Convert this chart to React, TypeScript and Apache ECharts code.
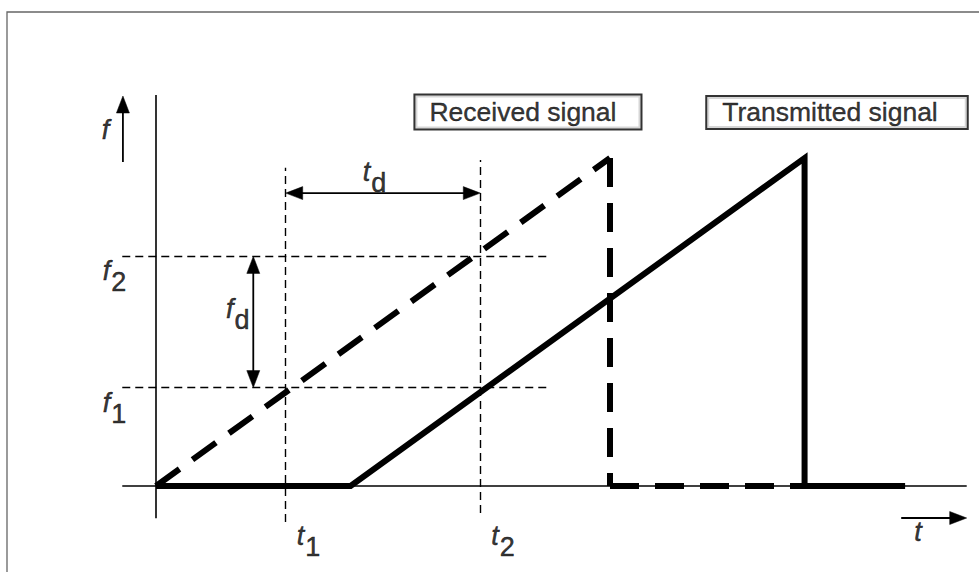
import React, { useEffect, useRef } from 'react';
import * as echarts from 'echarts';

// ---- data (t, f) in arbitrary units ----
const receivedSignal: [number, number][] = [[0, 0], [7, 10], [7, 0], [10, 0]];
const transmittedSignal: [number, number][] = [[0, 0], [3, 0], [10, 10], [10, 0], [11.55, 0]];
const freqMarks = [3, 7];
const freqSubscripts = ['1', '2'];
const timeMarks = [2, 5];
const timeSubscripts = ['1', '2'];
const signalNames = ['Received signal', 'Transmitted signal'];

const FONT = '"Liberation Sans", Arial, Helvetica, sans-serif';

export default function App() {
  const ref = useRef<HTMLDivElement>(null);

  useEffect(() => {
    if (!ref.current) return;
    const chart = echarts.init(ref.current, undefined, { renderer: 'svg' });

    const base = {
      fontSize: 27,
      fontFamily: FONT,
      color: '#000',
      lineHeight: 28,
      verticalAlign: 'top',
      textBorderColor: '#000',
      textBorderWidth: 0.5,
    };
    const richStyles = {
      i: { ...base, fontStyle: 'italic' },
      s: { ...base, padding: [11, 0, 0, 1] },
    };

    const seg = (a: number[], b: number[]) => ({ coords: [a, b] });

    const receivedSegments = receivedSignal.slice(1).map((p, i) => seg(receivedSignal[i], p));

    const tLineTop = [9.7, 9.94];
    const tLineBottom = [-1.1, -0.82];
    const refLines = [
      ...freqMarks.map((f) => seg([-0.52, f], [6.03, f])),
      ...timeMarks.map((t, i) => seg([t, tLineBottom[i]], [t, tLineTop[i]])),
    ];

    const arrows = [
      [-0.51, 9.88, -0.51, 11.89, 0, 1],
      [11.49, -0.976, 12.5, -0.976, 0, 1],
      [timeMarks[0], 8.93, timeMarks[1], 8.93, 1, 1],
      [1.5, freqMarks[0], 1.5, freqMarks[1], 1, 1],
    ];

    const labelItems: any[] = [
      { value: [-0.78, 10.85], label: { formatter: '{i|f}' } },
      ...freqMarks.map((f, i) => ({ value: [-0.64, f - 0.47], label: { formatter: `{i|f}{s|${freqSubscripts[i]}}` } })),
      ...timeMarks.map((t, i) => ({ value: [t + 0.35, -1.53], label: { formatter: `{i|t}{s|${timeSubscripts[i]}}` } })),
      { value: [(timeMarks[0] + timeMarks[1]) / 2 - 0.13, 9.55], label: { formatter: '{i|t}{s|d}' } },
      { value: [1.26, (freqMarks[0] + freqMarks[1]) / 2 + 0.38], label: { formatter: '{i|f}{s|d}' } },
      { value: [11.75, -1.43], label: { formatter: '{i|t}' } },
    ];

    const boxItems = [
      { value: [5.735, 11.4], name: signalNames[0], label: { padding: [3, 24, 3, 14] } },
      { value: [10.5, 11.39], name: signalNames[1], label: { padding: [2, 29, 2, 15] } },
    ];

    const option: any = {
      animation: false,
      backgroundColor: '#fff',
      grid: { left: 91.14, right: 5.8, top: 59.6, bottom: 20.4, containLabel: false },
      xAxis: { type: 'value', min: -1, max: 12.6, show: false },
      yAxis: { type: 'value', min: -2, max: 13, show: false },
      graphic: [
        {
          type: 'polyline',
          shape: { points: [[7, 572], [7, 12], [979, 12]] },
          style: { stroke: '#666', lineWidth: 1.3, fill: 'none' },
          silent: true,
        },
      ],
      series: [
        {
          type: 'lines',
          coordinateSystem: 'cartesian2d',
          silent: true,
          z: 1,
          lineStyle: { color: '#000', width: 1.6, type: 'solid', opacity: 1 },
          data: [seg([-0.52, 0], [12.5, 0]), seg([0, -0.98], [0, 11.92])],
        },
        {
          type: 'lines',
          coordinateSystem: 'cartesian2d',
          silent: true,
          z: 1,
          lineStyle: { color: '#000', width: 1.4, type: [8, 5], opacity: 1 },
          data: refLines,
        },
        {
          name: signalNames[0],
          type: 'lines',
          coordinateSystem: 'cartesian2d',
          silent: true,
          z: 3,
          lineStyle: { color: '#000', width: 6, type: [29, 16], cap: 'butt', opacity: 1 },
          data: receivedSegments,
        },
        {
          name: signalNames[1],
          type: 'line',
          silent: true,
          z: 3,
          showSymbol: false,
          symbol: 'none',
          lineStyle: { color: '#000', width: 6, join: 'miter' },
          data: transmittedSignal,
        },
        {
          type: 'custom',
          coordinateSystem: 'cartesian2d',
          silent: true,
          z: 4,
          encode: { x: [0, 2], y: [1, 3] },
          data: arrows,
          renderItem: (params: any, api: any) => {
            const a = api.coord([api.value(0), api.value(1)]);
            const b = api.coord([api.value(2), api.value(3)]);
            const hs = api.value(4) === 1;
            const he = api.value(5) === 1;
            const dx = b[0] - a[0];
            const dy = b[1] - a[1];
            const len = Math.hypot(dx, dy);
            const ux = dx / len;
            const uy = dy / len;
            const L = 17;
            const W = 6.5;
            const children: any[] = [];
            const s0 = hs ? [a[0] + ux * L * 0.8, a[1] + uy * L * 0.8] : a;
            const e0 = he ? [b[0] - ux * L * 0.8, b[1] - uy * L * 0.8] : b;
            children.push({
              type: 'line',
              shape: { x1: s0[0], y1: s0[1], x2: e0[0], y2: e0[1] },
              style: { stroke: '#000', lineWidth: 1.8 },
            });
            const head = (tip: number[], dirx: number, diry: number) => {
              const bx = tip[0] - dirx * L;
              const by = tip[1] - diry * L;
              const px = -diry;
              const py = dirx;
              return {
                type: 'polygon',
                shape: { points: [[tip[0], tip[1]], [bx + px * W, by + py * W], [bx - px * W, by - py * W]] },
                style: { fill: '#000', stroke: '#000', lineWidth: 0.5 },
              };
            };
            if (he) children.push(head(b, ux, uy));
            if (hs) children.push(head(a, -ux, -uy));
            return { type: 'group', children };
          },
        },
        {
          type: 'scatter',
          silent: true,
          z: 5,
          symbol: 'circle',
          symbolSize: 1,
          itemStyle: { color: 'rgba(0,0,0,0)' },
          label: {
            show: true,
            position: 'inside',
            rich: richStyles,
          },
          data: labelItems,
        },
        {
          type: 'scatter',
          silent: true,
          z: 5,
          symbol: 'circle',
          symbolSize: 1,
          itemStyle: { color: 'rgba(0,0,0,0)' },
          label: {
            show: true,
            position: 'inside',
            formatter: '{b}',
            fontSize: 26.5,
            fontFamily: FONT,
            color: '#000',
            textBorderColor: '#000',
            textBorderWidth: 0.4,
            lineHeight: 27,
            borderColor: '#000',
            borderWidth: 2,
            backgroundColor: '#fff',
          },
          data: boxItems,
        },
      ],
    };

    chart.setOption(option);
    return () => chart.dispose();
  }, []);

  return (
    <div
      ref={ref}
      style={{ position: 'fixed', left: 0, top: 0, width: 979, height: 572, background: '#fff' }}
    />
  );
}
